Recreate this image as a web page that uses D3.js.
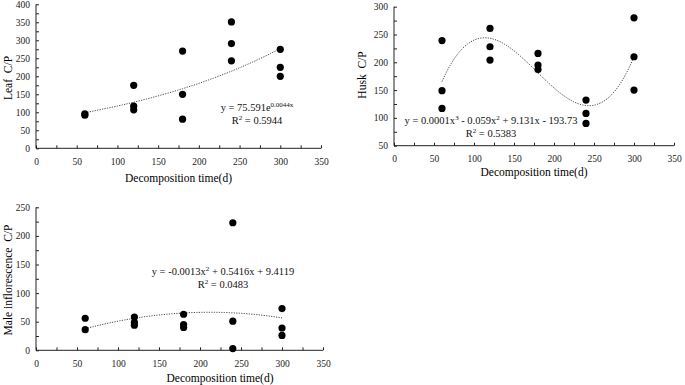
<!DOCTYPE html>
<html>
<head>
<meta charset="utf-8">
<script src="https://cdn.jsdelivr.net/npm/d3@7"></script>
<style>
  body { margin: 0; background: #fff; }
  svg { display: block; font-family: "Liberation Serif", "Times New Roman", serif; }
  .axis path, .axis line { stroke: #222; stroke-width: 1; }
  .axis text { font-family: "Liberation Serif", serif; font-size: 9.5px; fill: #222; }
  .trend { fill: none; stroke: #444; stroke-width: 1; stroke-dasharray: 1.2,1.3; }
</style>
</head>
<body>
<div id="chart"></div>
<script>
// Decomposition time (d) and C/P values
const leafDays = [60, 60, 120, 120, 120, 180, 180, 180, 240, 240, 240, 300, 300, 300];
const leafCP = [96, 92, 175, 117, 107, 270, 150, 81, 351, 291, 243, 275, 225, 200];

const huskDays = [60, 60, 60, 120, 120, 120, 180, 180, 180, 240, 240, 240, 300, 300, 300];
const huskCP = [239, 149, 117, 261, 228, 204, 216, 195, 187, 132, 108, 90, 280, 210, 150];

const maleDays = [60, 60, 120, 120, 120, 180, 180, 180, 240, 240, 240, 300, 300, 300];
const maleCP = [56, 36, 58, 49, 44, 63, 45, 40, 223, 51, 3, 73, 39, 26];

const xTicks = d3.range(0, 351, 25);
const leafTicks = d3.range(0, 401, 25);
const huskTicks = d3.range(50, 301, 25);
const maleTicks = d3.range(0, 251, 25);

const svg = d3.select('#chart').append('svg')
    .attr('width', 685)
    .attr('height', 385);

// least squares polynomial fit, returns a function of x
function polyFit(xs, ys, order) {
    const n = order + 1;
    const A = [];
    for (let r = 0; r < n; r++) {
        A.push([]);
        for (let c = 0; c < n; c++) {
            A[r].push(d3.sum(xs, x => Math.pow(x, r + c)));
        }
        A[r].push(d3.sum(xs, (x, i) => ys[i] * Math.pow(x, r)));
    }
    for (let i = 0; i < n; i++) {
        let p = i;
        for (let k = i + 1; k < n; k++) if (Math.abs(A[k][i]) > Math.abs(A[p][i])) p = k;
        [A[i], A[p]] = [A[p], A[i]];
        for (let k = i + 1; k < n; k++) {
            const f = A[k][i] / A[i][i];
            for (let c = i; c <= n; c++) A[k][c] -= f * A[i][c];
        }
    }
    const coef = new Array(n).fill(0);
    for (let i = n - 1; i >= 0; i--) {
        let s = A[i][n];
        for (let c = i + 1; c < n; c++) s -= A[i][c] * coef[c];
        coef[i] = s / A[i][i];
    }
    return x => coef.reduce((acc, c, i) => acc + c * Math.pow(x, i), 0);
}

// exponential fit (linear regression on ln y)
function expFit(xs, ys) {
    const line = polyFit(xs, ys.map(Math.log), 1);
    return x => Math.exp(line(x));
}

// parts: plain strings, or ['^', text] for superscripts
function richText(sel, parts) {
    parts.forEach(part => {
        if (Array.isArray(part)) {
            sel.append('tspan')
                .attr('font-size', 7)
                .attr('baseline-shift', '4')
                .text(part[1]);
        } else {
            sel.append('tspan').text(part);
        }
    });
}

function drawPanel(cfg) {
    const x = d3.scaleLinear().domain([0, 350]).range([cfg.left, cfg.right]);
    const y = d3.scaleLinear().domain(cfg.yDomain).range([cfg.bottom, cfg.top]);
    const g = svg.append('g');

    g.append('g')
        .attr('class', 'axis')
        .attr('transform', `translate(0,${cfg.bottom})`)
        .call(d3.axisBottom(x).tickValues(xTicks).tickSize(-3).tickPadding(10)
            .tickFormat(d => d % 50 === 0 ? d : ''))
        .call(a => a.select('.domain').attr('d', `M${cfg.left},0H${cfg.right}`));

    g.append('g')
        .attr('class', 'axis')
        .attr('transform', `translate(${cfg.left},0)`)
        .call(d3.axisLeft(y).tickValues(cfg.yTicks).tickSize(-3).tickPadding(6)
            .tickFormat(d => d % 50 === 0 ? d : ''))
        .call(a => a.select('.domain').attr('d', `M0,${cfg.top}V${cfg.bottom}`));

    const fit = cfg.fit(cfg.xs, cfg.ys);
    const curve = d3.range(60, 300.5, 2).map(d => [d, fit(d)]);
    g.append('path')
        .attr('class', 'trend')
        .attr('d', d3.line().x(d => x(d[0])).y(d => y(d[1]))(curve));

    g.selectAll('circle')
        .data(cfg.xs.map((d, i) => [d, cfg.ys[i]]))
        .enter().append('circle')
        .attr('cx', d => x(d[0]))
        .attr('cy', d => y(d[1]))
        .attr('r', 3.6)
        .attr('fill', '#000');

    g.append('text')
        .attr('x', cfg.titleX || (cfg.left + cfg.right) / 2)
        .attr('y', cfg.titleY)
        .attr('text-anchor', 'middle')
        .attr('font-size', 11.5)
        .text('Decomposition time(d)');

    g.append('text')
        .attr('transform', `translate(${cfg.yLabelX},${cfg.yLabelY}) rotate(-90)`)
        .attr('text-anchor', 'middle')
        .attr('font-size', 11.5)
        .style('white-space', 'pre')
        .text(cfg.yLabel);

    const eq = g.append('text')
        .attr('x', cfg.eqX)
        .attr('y', cfg.eqY)
        .attr('text-anchor', 'middle')
        .attr('font-size', 10.5)
        .attr('fill', '#111');
    richText(eq, cfg.eq);

    const r2 = g.append('text')
        .attr('x', cfg.eqX)
        .attr('y', cfg.eqY + 13)
        .attr('text-anchor', 'middle')
        .attr('font-size', 10.5)
        .attr('fill', '#111');
    richText(r2, ['R', ['^', '2'], ' = ' + cfg.r2]);
}

drawPanel({
    left: 36, right: 321, top: 4.3, bottom: 148.3,
    yDomain: [0, 400], yTicks: leafTicks,
    xs: leafDays, ys: leafCP, fit: expFit,
    titleY: 182, yLabel: 'Leaf  C/P', yLabelX: 12, yLabelY: 78,
    eqX: 257, eqY: 111,
    eq: ['y = 75.591e', ['^', '0.0044x']], r2: '0.5944'
});

drawPanel({
    left: 394, right: 674, top: 6.7, bottom: 145.7,
    yDomain: [50, 300], yTicks: huskTicks,
    xs: huskDays, ys: huskCP, fit: (a, b) => polyFit(a, b, 3),
    titleY: 176, yLabel: 'Husk  C/P', yLabelX: 366, yLabelY: 75,
    eqX: 491, eqY: 124,
    eq: ['y = 0.0001x', ['^', '3'], ' - 0.059x', ['^', '2'], ' + 9.131x - 193.73'], r2: '0.5383'
});

drawPanel({
    left: 36, right: 323, top: 207.3, bottom: 350.3,
    yDomain: [0, 250], yTicks: maleTicks,
    xs: maleDays, ys: maleCP, fit: (a, b) => polyFit(a, b, 2),
    titleX: 220, titleY: 382, yLabel: 'Male inflorescence  C/P', yLabelX: 12, yLabelY: 280,
    eqX: 223, eqY: 275,
    eq: ['y = -0.0013x', ['^', '2'], ' + 0.5416x + 9.4119'], r2: '0.0483'
});
</script>
</body>
</html>
